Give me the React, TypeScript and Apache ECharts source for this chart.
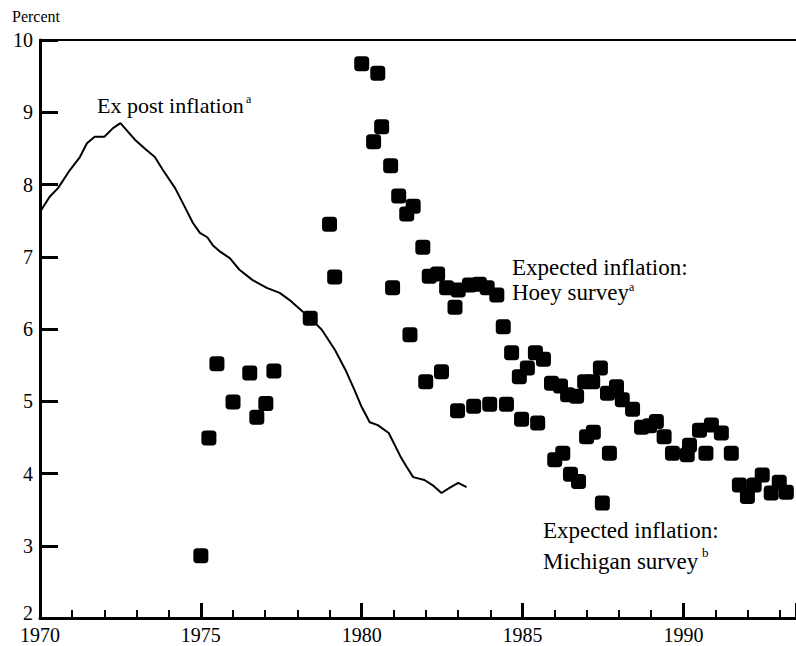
import React, { useEffect, useRef } from "react";
import * as echarts from "echarts";

const FONT = "'Liberation Serif', 'Times New Roman', serif";

const xTickYears = [1970, 1975, 1980, 1985, 1990];
const yTicks = [2, 3, 4, 5, 6, 7, 8, 9, 10];

// Ex post inflation (line)
const expostYears = [1970.0, 1970.3, 1970.56, 1970.93, 1971.24, 1971.46, 1971.7, 1972.0, 1972.27, 1972.5, 1972.95, 1973.3, 1973.57, 1973.82, 1974.2, 1974.5, 1974.75, 1974.97, 1975.2, 1975.37, 1975.6, 1975.9, 1976.2, 1976.6, 1977.05, 1977.45, 1977.76, 1978.17, 1978.4, 1978.76, 1979.17, 1979.5, 1979.77, 1980.0, 1980.25, 1980.5, 1980.84, 1981.2, 1981.4, 1981.6, 1981.95, 1982.2, 1982.48, 1982.73, 1983.0, 1983.26];
const expostValues = [7.62, 7.83, 7.95, 8.2, 8.38, 8.57, 8.66, 8.66, 8.78, 8.85, 8.62, 8.48, 8.38, 8.2, 7.95, 7.69, 7.47, 7.33, 7.27, 7.16, 7.07, 6.98, 6.82, 6.68, 6.57, 6.5, 6.4, 6.24, 6.15, 5.99, 5.71, 5.43, 5.16, 4.92, 4.71, 4.67, 4.56, 4.24, 4.09, 3.95, 3.91, 3.84, 3.73, 3.8, 3.87, 3.81];

// Expected inflation: Hoey survey
const hoeyYears = [1978.4, 1979.0, 1979.16, 1980.0, 1980.5, 1980.37, 1980.62, 1980.9, 1981.15, 1981.4, 1981.6, 1981.9, 1982.1, 1982.36, 1982.64, 1983.0, 1983.35, 1983.66, 1983.9, 1984.2, 1984.4, 1984.66, 1984.9, 1985.15, 1985.4, 1985.65, 1985.9, 1986.18, 1986.4, 1986.68, 1986.93, 1987.18, 1987.42, 1987.64, 1987.92, 1988.1, 1988.42, 1988.7, 1988.95, 1989.16, 1989.4, 1989.66, 1990.12, 1990.19, 1990.5, 1990.87, 1991.18, 1991.49];
const hoeyValues = [6.15, 7.45, 6.72, 9.67, 9.54, 8.59, 8.8, 8.26, 7.84, 7.59, 7.7, 7.13, 6.73, 6.76, 6.57, 6.54, 6.61, 6.62, 6.57, 6.47, 6.03, 5.67, 5.34, 5.46, 5.67, 5.58, 5.25, 5.21, 5.09, 5.07, 5.27, 5.27, 5.46, 5.11, 5.2, 5.02, 4.89, 4.64, 4.66, 4.72, 4.51, 4.28, 4.26, 4.39, 4.6, 4.67, 4.56, 4.28];

// Expected inflation: Michigan survey
const michYears = [1975.0, 1975.25, 1975.5, 1976.0, 1976.52, 1976.74, 1977.02, 1977.27, 1980.96, 1981.5, 1981.99, 1982.48, 1982.9, 1982.98, 1983.48, 1983.98, 1984.5, 1984.97, 1985.47, 1986.0, 1986.25, 1986.49, 1986.74, 1986.99, 1987.2, 1987.48, 1987.7, 1990.7, 1991.74, 1991.99, 1992.2, 1992.45, 1992.73, 1992.98, 1993.2];
const michValues = [2.86, 4.49, 5.52, 4.99, 5.39, 4.78, 4.97, 5.42, 6.57, 5.92, 5.27, 5.41, 6.3, 4.87, 4.93, 4.96, 4.96, 4.75, 4.7, 4.19, 4.28, 3.99, 3.89, 4.51, 4.57, 3.59, 4.28, 4.28, 3.84, 3.68, 3.84, 3.98, 3.73, 3.88, 3.74];

const zip = (xs: number[], ys: number[]) => xs.map((x, i) => [x, ys[i]]);

export default function App() {
  const ref = useRef<HTMLDivElement>(null);
  useEffect(() => {
    if (!ref.current) return;
    const chart = echarts.init(ref.current, null, { renderer: "svg" });
    const txt = (text: string, x: number, y: number, size: number) => ({
      type: "text",
      x,
      y,
      style: { text, font: `${size}px ${FONT}`, fill: "#000", textAlign: "left", textVerticalAlign: "middle" },
    });
    chart.setOption({
      animation: false,
      backgroundColor: "#fff",
      grid: { left: 40, top: 40, right: 0, bottom: 28, containLabel: false },
      xAxis: [
        {
          type: "value",
          min: 1970,
          max: 1993.5,
          interval: 5,
          axisLine: { show: true, lineStyle: { color: "#000", width: 3 } },
          axisTick: { show: true, inside: true, length: 15, lineStyle: { color: "#000", width: 3 } },
          minorTick: { show: true, splitNumber: 5, length: 8, lineStyle: { color: "#000", width: 2 } },
          splitLine: { show: false },
          axisLabel: {
            color: "#000",
            fontFamily: FONT,
            fontSize: 20,
            margin: 7,
            showMaxLabel: false,
            formatter: (v: number) => (xTickYears.includes(v) ? String(v) : ""),
          },
        },
        {
          type: "value",
          position: "top",
          min: 1970,
          max: 1993.5,
          axisLine: { show: true, lineStyle: { color: "#000", width: 2 } },
          axisTick: { show: false },
          axisLabel: { show: false },
          splitLine: { show: false },
        },
      ],
      yAxis: {
        type: "value",
        min: yTicks[0],
        max: yTicks[yTicks.length - 1],
        interval: 1,
        axisLine: { show: true, lineStyle: { color: "#000", width: 3 } },
        axisTick: { show: true, inside: true, length: 18, lineStyle: { color: "#000", width: 3 } },
        splitLine: { show: false },
        axisLabel: {
          color: "#000",
          fontFamily: FONT,
          fontSize: 20,
          margin: 7,
          formatter: (v: number) => (v === yTicks[0] ? `{low|${v}}` : String(v)),
          rich: { low: { fontFamily: FONT, fontSize: 20, color: "#000", padding: [0, 0, 10, 0] } },
        },
      },
      series: [
        {
          name: "Ex post inflation",
          type: "line",
          data: zip(expostYears, expostValues),
          showSymbol: false,
          symbol: "none",
          lineStyle: { color: "#000", width: 2 },
          z: 2,
        },
        {
          name: "Expected inflation: Hoey survey",
          type: "scatter",
          data: zip(hoeyYears, hoeyValues),
          symbol: "roundRect",
          symbolSize: 15,
          itemStyle: { color: "#000", opacity: 1 },
          z: 3,
        },
        {
          name: "Expected inflation: Michigan survey",
          type: "scatter",
          data: zip(michYears, michValues),
          symbol: "roundRect",
          symbolSize: 15,
          itemStyle: { color: "#000", opacity: 1 },
          z: 3,
        },
      ],
      graphic: [
        txt("Percent", 12, 16, 16),
        txt("Ex post inflation", 97, 105, 22),
        txt("a", 246, 99, 12),
        txt("Expected inflation:", 512, 267, 23),
        txt("Hoey survey", 512, 292, 23),
        txt("a", 629, 287, 12),
        txt("Expected inflation:", 543, 530, 23),
        txt("Michigan survey", 543, 561, 23),
        txt("b", 702, 552, 13),
      ],
    });
    return () => chart.dispose();
  }, []);
  return <div ref={ref} style={{ position: "fixed", left: 0, top: 0, width: 796, height: 646 }} />;
}
